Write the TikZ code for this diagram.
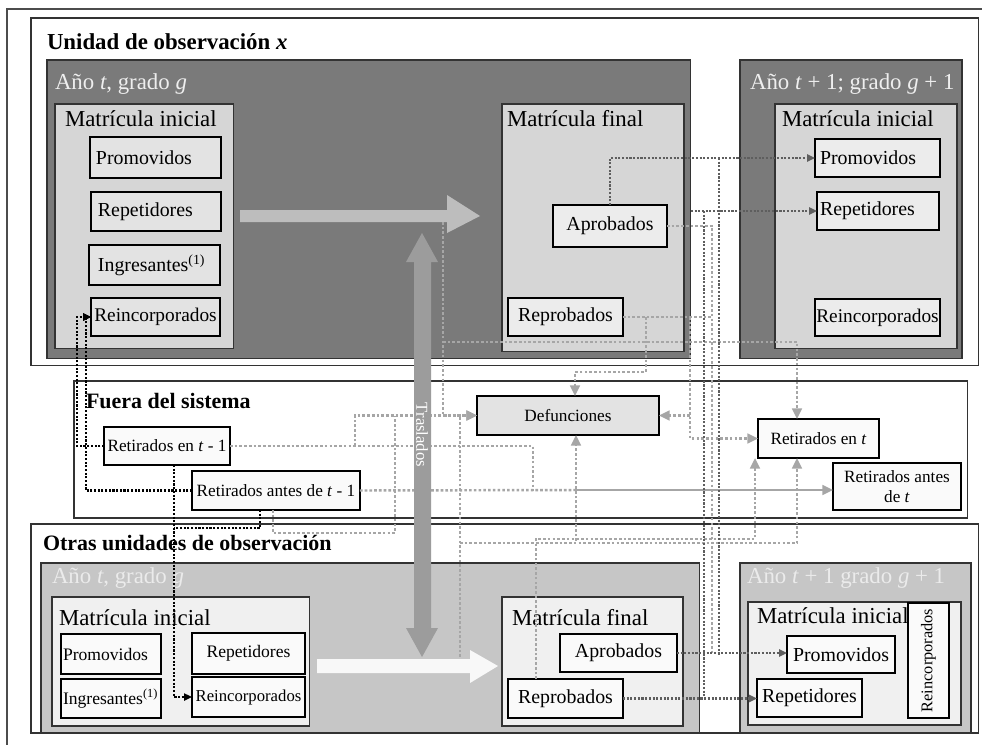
\documentclass[tikz,border=0pt]{standalone}
\usepackage{fontspec}
\setmainfont{Liberation Serif}
\usepackage{graphicx}
\usepackage{tikz}
\usetikzlibrary{arrows.meta,positioning,calc}

\definecolor{yeardark}{HTML}{7A7A7A}
\definecolor{yearlight}{HTML}{C6C6C6}
\definecolor{enrolgray}{HTML}{D6D6D6}
\definecolor{enrolpale}{HTML}{F0F0F0}
\definecolor{cellgray}{HTML}{E3E3E3}
\definecolor{cellpale}{HTML}{ECECEC}
\definecolor{cellwhite}{HTML}{FAFAFA}
\definecolor{flowtop}{HTML}{BDBDBD}
\definecolor{flowbot}{HTML}{F8F8F8}
\definecolor{trasl}{HTML}{9C9C9C}
\definecolor{linklight}{HTML}{A6A6A6}
\definecolor{linkdark}{HTML}{5E5E5E}
\definecolor{titlewhite}{HTML}{EEEEEE}
\definecolor{titlepale}{HTML}{EBEBEB}

\begin{document}
\begin{tikzpicture}[x=0.02cm,y=-0.02cm,
        every node/.style={outer sep=0pt},
        panel/.style={draw=black!80,rectangle,anchor=north west,line width=0.6pt,inner sep=0pt},
        cell/.style={draw,rectangle,anchor=north west,line width=0.6pt,inner sep=0pt,font=\fontsize{11.3}{13}\selectfont},
        smallcell/.style={cell,fill=cellwhite,font=\fontsize{10}{12}\selectfont},
        outcell/.style={cell,fill=cellwhite,font=\fontsize{9.8}{11.4}\selectfont},
        hdr/.style={anchor=base west,inner sep=0pt,font=\fontsize{13}{15}\selectfont},
        boldhdr/.style={anchor=base west,inner sep=0pt,font=\bfseries\fontsize{12.5}{15}\selectfont},
        blk/.style={black,line width=1.35pt,dash pattern=on 1.2pt off 0.9pt},
        dk/.style={linkdark,line width=1.35pt,dash pattern=on 1.2pt off 0.9pt},
        lt/.style={linklight,line width=1.4pt,dash pattern=on 1.5pt off 1.2pt},
        endtip/.style={-{Triangle[length=4.5pt,width=4pt]}},
        bigend/.style={-{Triangle[length=6pt,width=5.5pt]}}]
   \path[use as bounding box] (0,0) rectangle (982,744);
   \clip (0,0) rectangle (982,744);
   \fill[white] (0,0) rectangle (982,744);
   \draw[line width=0.6pt,black!70] (7,9) rectangle (1000,760);

   % unidad de observacion x
   \node[panel,minimum width=18.96cm,minimum height=6.96cm] (UO1) at (31,18) {};
   \node[boldhdr,font=\bfseries\fontsize{13}{15}\selectfont] (tUO1) at (47,49) {Unidad de observación \textit{x}};
   \node[panel,fill=yeardark,minimum width=12.88cm,minimum height=5.98cm] (A1) at (47,60) {};
   \node[hdr,text=titlewhite] (tA1) at (55,89) {Año \textit{t}, grado \textit{g}};
   \node[panel,fill=enrolgray,minimum width=3.58cm,minimum height=4.90cm] (MI1) at (55,104) {};
   \node[hdr] (tMI1) at (65,126) {Matrícula inicial};
   \node[cell,fill=cellgray,minimum width=2.62cm,minimum height=0.82cm] (P1) at (90,137) {\makebox[2.62cm][l]{\hspace{0.12cm}Promovidos}};
   \node[cell,fill=cellgray,minimum width=2.60cm,minimum height=0.78cm] (Rp1) at (91,192) {\makebox[2.60cm][l]{\hspace{0.14cm}Repetidores}};
   \node[cell,fill=cellgray,minimum width=2.62cm,minimum height=0.80cm] (I1) at (89,245) {\makebox[2.62cm][l]{\hspace{0.18cm}Ingresantes\textsuperscript{(1)}}};
   \node[cell,fill=cellgray,font=\fontsize{11}{13}\selectfont,minimum width=2.58cm,minimum height=0.76cm] (Rc1) at (91,298) {Reincorporados};
   \node[panel,fill=enrolgray,minimum width=3.64cm,minimum height=4.96cm] (MF1) at (502,104) {};
   \node[hdr] (tMF1) at (507,126) {Matrícula final};
   \node[cell,fill=cellpale,minimum width=2.28cm,minimum height=0.84cm] (Ap1) at (553,205) {Aprobados};
   \node[cell,fill=cellpale,minimum width=2.30cm,minimum height=0.76cm] (Rb1) at (508,298) {Reprobados};
   \node[panel,fill=yeardark,minimum width=4.44cm,minimum height=5.98cm] (A2) at (740,60) {};
   \node[hdr,text=titlewhite] (tA2) at (750,89) {Año \textit{t} + 1; grado \textit{g} + 1};
   \node[panel,fill=enrolgray,minimum width=3.64cm,minimum height=4.90cm] (MI2) at (775,104) {};
   \node[hdr] (tMI2) at (782,126) {Matrícula inicial};
   \node[cell,fill=cellpale,minimum width=2.50cm,minimum height=0.76cm] (P2) at (815,139) {\makebox[2.50cm][l]{\hspace{0.10cm}Promovidos}};
   \node[cell,fill=cellpale,minimum width=2.44cm,minimum height=0.76cm] (Rp2) at (817,192) {\makebox[2.44cm][l]{\hspace{0.06cm}Repetidores}};
   \node[cell,fill=cellpale,font=\fontsize{11}{13}\selectfont,minimum width=2.50cm,minimum height=0.74cm] (Rc2) at (815,299) {Reincorporados};

   % fuera del sistema
   \node[panel,minimum width=17.88cm,minimum height=2.74cm] (FS) at (74,381) {};
   \node[boldhdr] (tFS) at (86,408) {Fuera del sistema};
   \node[outcell,minimum width=2.52cm,minimum height=0.76cm] (R1) at (104,427) {Retirados en \textit{t} - 1};
   \node[outcell,minimum width=3.36cm,minimum height=0.78cm] (R2) at (192,471) {Retirados antes de \textit{t} - 1};
   \node[outcell,fill=cellgray,minimum width=3.64cm,minimum height=0.78cm] (Def) at (477,396) {Defunciones};
   \node[outcell,minimum width=2.42cm,minimum height=0.78cm] (Rt) at (758,419) {Retirados en \textit{t}};
   \node[outcell,align=center,minimum width=2.56cm,minimum height=0.94cm] (Rat) at (833,463) {Retirados antes\\de \textit{t}};

   % otras unidades
   \node[panel,minimum width=18.96cm,minimum height=4.18cm] (UO2) at (31,524) {};
   \node[boldhdr] (tUO2) at (43,550) {Otras unidades de observación};
   \node[panel,fill=yearlight,minimum width=13.18cm,minimum height=3.40cm] (A3) at (41,563) {};
   \node[hdr,text=titlepale] (tA3) at (52,583) {Año \textit{t}, grado \textit{g}};
   \node[panel,fill=enrolpale,minimum width=5.16cm,minimum height=2.58cm] (MI3) at (52,597) {};
   \node[hdr] (tMI3) at (59,625) {Matrícula inicial};
   \node[smallcell,minimum width=2.00cm,minimum height=0.80cm] (P3) at (61,634) {\makebox[2.00cm][l]{\hspace{0.04cm}Promovidos}};
   \node[smallcell,minimum width=2.26cm,minimum height=0.82cm] (Rp3) at (192,633) {Repetidores};
   \node[smallcell,minimum width=2.00cm,minimum height=0.78cm] (I3) at (61,679) {\makebox[2.00cm][l]{\hspace{0.04cm}Ingresantes\textsuperscript{(1)}}};
   \node[smallcell,font=\fontsize{9.5}{11}\selectfont,minimum width=2.26cm,minimum height=0.80cm] (Rc3) at (192,677) {Reincorporados};
   \node[panel,fill=enrolpale,minimum width=3.62cm,minimum height=2.58cm] (MF3) at (502,597) {};
   \node[hdr] (tMF3) at (512,625) {Matrícula final};
   \node[cell,fill=cellwhite,minimum width=2.34cm,minimum height=0.76cm] (Ap3) at (560,634) {Aprobados};
   \node[cell,fill=cellwhite,minimum width=2.30cm,minimum height=0.78cm] (Rb3) at (508,679) {Reprobados};
   \node[panel,fill=yearlight,minimum width=4.62cm,minimum height=3.40cm] (A4) at (740,563) {};
   \node[hdr,text=titlepale] (tA4) at (747,583) {Año \textit{t} + 1 grado \textit{g} + 1};
   \node[panel,fill=enrolpale,minimum width=4.26cm,minimum height=2.46cm] (MI4) at (748,602) {};
   \node[hdr] (tMI4) at (757,623) {Matrícula inicial};
   \node[cell,fill=cellwhite,minimum width=2.16cm,minimum height=0.74cm] (P4) at (787,636) {Promovidos};
   \node[cell,fill=cellwhite,minimum width=2.10cm,minimum height=0.76cm] (Rp4) at (757,679) {Repetidores};
   \node[cell,fill=cellwhite,font=\fontsize{9.3}{11}\selectfont,minimum width=0.82cm,minimum height=2.30cm] (Rc4) at (908,603) {\rotatebox{90}{Reincorporados}};

   % flujos del ano
   \fill[flowtop] (240,210) -- (447,210) -- (447,195) -- (480,216) -- (447,233) -- (447,222) -- (240,222) -- cycle;
   \fill[flowbot] (317,659) -- (470,659) -- (470,650) -- (498,666) -- (470,683) -- (470,673) -- (317,673) -- cycle;

   % puntos de cruce
   \coordinate (busE) at (690,0);
   \coordinate (busA) at (712,0);
   \coordinate (busR) at (704,0);
   \coordinate (busP) at (719,0);
   \coordinate (busT) at (797,0);
   \coordinate (busU) at (755,0);
   \coordinate (flowTop) at (443,222);
   \coordinate (dropTop) at (443,342);
   \coordinate (flowBot) at (460,657);
   \coordinate (dropBot) at (460,543);
   \coordinate (r1Def) at (355,446);
   \coordinate (r1Down) at (533,446);
   \coordinate (r2Split) at (576,490);
   \coordinate (r2Low) at (395,533);
   \coordinate (rb3Turn) at (536,539);
   \coordinate (defLow) at (576,541);
   \coordinate (rb1Def) at (646,317);
   \coordinate (defTop) at (575,372);
   \coordinate (r1r2) at (174,528);

   % salidas del sistema
   \draw[lt] (Ap1.east) -| (busA |- P4.west);
   \draw[lt] (Rb1.east) -- (busA |- Rb1.east);
   \draw[lt,bigend] (rb1Def) |- (defTop) -- (defTop |- Def.north);
   \draw[lt,bigend] (busE |- Rb1.east) |- (Rt.west);
   \draw[lt,bigend] (busE |- Def.east) -- (Def.east);
   \draw[lt,bigend] (flowTop) |- (Def.west);
   \draw[lt,bigend] (dropTop) -| (busT |- Rt.north);
   \draw[lt] (R1.east) -| (r1Down |- R2.east);
   \draw[lt,bigend] (r1Def) |- (Def.west);
   \draw[lt] (R2.east) -- (r2Split);
   \draw[linklight,line width=1.3pt,bigend] (r2Split) -- (r2Split -| Rat.west);
   \draw[lt] ([xshift=-0.06cm]R2.south) |- (r2Low) -- (r2Low |- Def.west);
   \draw[lt] (flowBot) -- (flowBot |- Def.west);
   \draw[lt,bigend] (dropBot) -| (busT |- Rt.south);
   \draw[lt,bigend] (rb3Turn |- Rb3.north) -- (rb3Turn) -| (busU |- Rt.south);
   \draw[lt,bigend] (defLow) -- (defLow |- Def.south);

   % promocion y repeticion
   \draw[dk,endtip] (Ap1.north) |- (P2.west);
   \draw[dk,endtip] (A1.east |- Rp2.west) -- (Rp2.west);
   \draw[dk] (busR |- Rp2.west) -- (busR |- Rp4.west);
   \draw[dk] (busP |- P2.west) -- (busP |- P4.west);
   \draw[dk,endtip] (Ap3.east) -- (Ap3.east -| P4.west);
   \draw[dk,endtip] (Rb3.east) -- (Rb3.east -| Rp4.west);

   % reincorporaciones
   \draw[blk,endtip] (R1.west) -| ([xshift=-0.28cm]Rc1.west) -- (Rc1.west);
   \draw[blk,endtip] (R2.west) -| ([xshift=-0.10cm]Rc1.west) -- (Rc1.west);
   \draw[blk,endtip] ([xshift=0.14cm]R1.south) |- (Rc3.west);
   \draw[blk] ([xshift=-0.32cm]R2.south) |- (r1r2);

   % traslados
   \fill[trasl] (422,233) -- (438,262) -- (431,262) -- (431,628) -- (438,628) -- (422,657) -- (406,628) -- (414,628) -- (414,262) -- (406,262) -- cycle;
   \node[rotate=-90,text=white,inner sep=0pt,font=\fontsize{9.5}{11}\selectfont] (tTras) at (422,435) {Traslados};

\end{tikzpicture}
\end{document}
